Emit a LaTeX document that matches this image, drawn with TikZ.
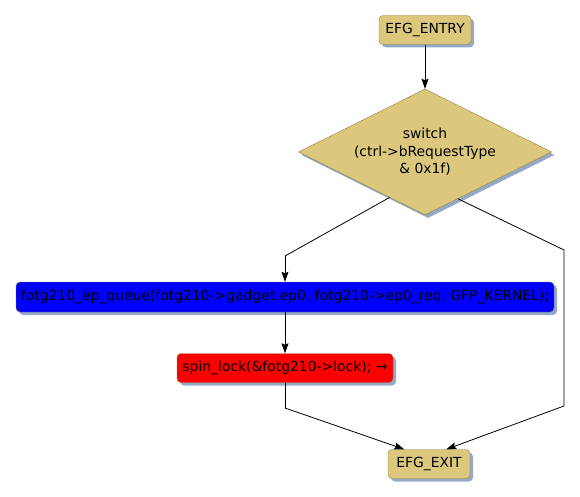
\documentclass[tikz,border=0pt]{standalone}
\usepackage{fontspec}
\setmainfont{DejaVu Sans}
\usetikzlibrary{arrows.meta,positioning,calc,shapes.geometric,shadows}
\definecolor{efgtan}{RGB}{219,200,125}
\definecolor{efgedge}{RGB}{150,128,60}
\definecolor{efgshadow}{RGB}{150,168,200}
\definecolor{efgblue}{RGB}{0,0,255}
\definecolor{efgred}{RGB}{255,0,0}

\begin{document}
\begin{tikzpicture}[
  x=1pt,y=-1pt,
  font=\fontsize{13.9}{17.5}\selectfont,
  shade/.style={drop shadow={shadow xshift=3pt,shadow yshift=-3pt,fill=efgshadow,opacity=1}},
  box/.style={draw=efgedge,rounded corners=4pt,align=center,inner sep=0pt,minimum height=29pt,shade},
  term/.style={box,fill=efgtan},
  stmt/.style={box,minimum height=30pt},
  cond/.style={diamond,aspect=2,draw=efgedge,fill=efgtan,align=center,inner sep=0pt,minimum width=253pt,minimum height=126pt,shade},
  arr/.style={-{Stealth[length=10pt,width=7pt,inset=1.5pt]},line width=0.8pt},
  seg/.style={line width=0.8pt}
]
\useasboundingbox (0,0) rectangle (580,497);

\node[term,minimum width=92pt] (entry) at (425,30) {EFG\_ENTRY};
\node[cond] (switch) at (425,152) {switch\\(ctrl->bRequestType\\\& 0x1f)};
\node[stmt,fill=efgblue,minimum width=538pt] (queue) at (285,297) {fotg210\_ep\_queue(fotg210->gadget.ep0, fotg210->ep0\_req, GFP\_KERNEL);};
\node[stmt,fill=efgred,minimum width=216pt,minimum height=29pt] (lock) at (285,368) {spin\_lock(\&fotg210->lock); →};
\node[term,minimum width=82pt] (exit) at (429,464) {EFG\_EXIT};

\coordinate (lbend) at (285,256);
\coordinate (rbend) at (564,250);
\coordinate (rdown) at (564,406);
\coordinate (lowbend) at (285,408);

\draw[arr] (entry) -- (switch.north);
\draw[seg] ($(switch.west)!0.72!(switch.south)$) -- (lbend);
\draw[arr] (lbend) -- (queue.north);
\draw[arr] (queue) -- (lock);
\draw[seg] (lock.south) -- (lowbend);
\draw[arr] (lowbend) -- ($(exit.north west)!0.2!(exit.north east)$);
\draw[seg] ($(switch.south)!0.26!(switch.east)$) -- (rbend) -- (rdown);
\draw[arr] (rdown) -- ($(exit.north west)!0.71!(exit.north east)$);
\end{tikzpicture}
\end{document}
